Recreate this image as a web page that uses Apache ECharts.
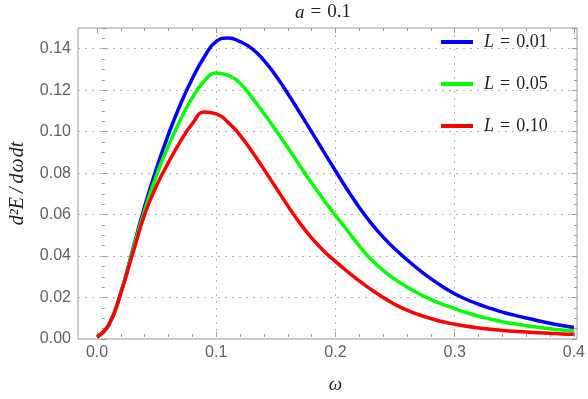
<!DOCTYPE html>
<html>
<head>
<meta charset="utf-8">
<script src="https://cdn.jsdelivr.net/npm/echarts@6/dist/echarts.min.js"></script>
<style>
  html, body { margin: 0; padding: 0; background: #fff; }
  #chart { width: 588px; height: 399px; }
</style>
</head>
<body>
<div id="chart"></div>
<script>
// sample points along omega
var omega = [0, 0.01, 0.02, 0.03, 0.04, 0.05, 0.06, 0.07, 0.08, 0.09,
  0.10, 0.11, 0.12, 0.13, 0.14, 0.15, 0.16, 0.17, 0.18, 0.19,
  0.20, 0.21, 0.22, 0.23, 0.24, 0.25, 0.26, 0.27, 0.28, 0.29,
  0.30, 0.31, 0.32, 0.33, 0.34, 0.35, 0.36, 0.37, 0.38, 0.39, 0.40];

var blueL001 = [0, 0.006, 0.0215, 0.0425, 0.0635, 0.082, 0.0985, 0.113, 0.1255, 0.1359,
  0.1435, 0.1452, 0.1434, 0.1400, 0.1343, 0.1268, 0.1182, 0.1090, 0.0996, 0.0901,
  0.0807, 0.0715, 0.0629, 0.0552, 0.0485, 0.0427, 0.0375, 0.0327, 0.0283, 0.0244,
  0.0210, 0.0182, 0.0159, 0.0139, 0.0121, 0.0106, 0.0092, 0.0079, 0.0067, 0.0056, 0.0046];

var greenL005 = [0, 0.006, 0.0215, 0.042, 0.0615, 0.0787, 0.0930, 0.1055, 0.1162, 0.1243,
  0.1282, 0.1270, 0.1232, 0.1162, 0.1085, 0.1004, 0.0920, 0.0833, 0.0748, 0.0667,
  0.0590, 0.0517, 0.0442, 0.0376, 0.0323, 0.0280, 0.0243, 0.0210, 0.0182, 0.0158,
  0.0138, 0.0118, 0.0101, 0.0087, 0.0074, 0.0064, 0.0055, 0.0047, 0.0040, 0.0034, 0.0029];

var redL010 = [0, 0.006, 0.0215, 0.0405, 0.0595, 0.0735, 0.0848, 0.0950, 0.1036, 0.1092,
  0.1083, 0.1042, 0.0979, 0.0900, 0.0814, 0.0726, 0.0637, 0.0554, 0.0481, 0.0419,
  0.0367, 0.0318, 0.0272, 0.0230, 0.0192, 0.0158, 0.0130, 0.0108, 0.0090, 0.0074,
  0.0062, 0.0052, 0.0044, 0.0038, 0.0032, 0.0028, 0.0024, 0.0021, 0.0018, 0.0015, 0.0013];

var lValues = ['0.01', '0.05', '0.10'];
var seriesValues = [blueL001, greenL005, redL010];
var seriesColors = ['#0000ff', '#00ff00', '#ff0000'];

var dom = document.getElementById('chart');
var myChart = echarts.init(dom, null, { renderer: 'canvas' });

var gray = '#9a9a9a';
var labelColor = '#606060';
var textColor = '#222';
var serif = '"Liberation Serif", "DejaVu Serif", serif';
var dotted = { color: '#b5b5b5', type: [2, 5], width: 1 };

function pairs(ys) {
  return omega.map(function (x, i) { return [x, ys[i]]; });
}

var series = lValues.map(function (l, k) {
  return {
    name: 'L = ' + l,
    type: 'line',
    xAxisIndex: 1,
    yAxisIndex: 2,
    data: pairs(seriesValues[k]),
    smooth: 0.5,
    showSymbol: false,
    clip: false,
    lineStyle: { width: 3.5, color: seriesColors[k] },
    itemStyle: { color: seriesColors[k] }
  };
});

function mathRich(size) {
  return {
    i: { fontFamily: serif, fontStyle: 'italic', fontSize: size, color: textColor },
    e: { fontFamily: serif, fontSize: size, color: textColor, padding: [0, 6] },
    n: { fontFamily: serif, fontSize: size, color: textColor }
  };
}

var option = {
  animation: false,
  title: {
    text: '{i|a}{e|=}{n|0.1}',
    left: 295,
    top: 3,
    padding: 0,
    textStyle: {
      fontFamily: serif,
      fontSize: 19,
      fontWeight: 'normal',
      color: textColor,
      rich: mathRich(19)
    }
  },
  legend: {
    orient: 'vertical',
    left: 436,
    top: 28,
    itemGap: 24,
    itemWidth: 32,
    itemHeight: 4,
    icon: 'rect',
    formatter: function (name) {
      return '{i|L}{e|=}{n|' + name.split('= ')[1] + '}';
    },
    textStyle: {
      fontFamily: serif,
      fontSize: 18,
      lineHeight: 18,
      color: textColor,
      padding: [0, 0, 0, 6],
      rich: mathRich(18)
    },
    data: lValues.map(function (l) { return 'L = ' + l; })
  },
  grid: [
    { left: 73, right: 11, top: 28, bottom: 60, show: true, borderColor: gray, borderWidth: 1, backgroundColor: 'transparent' },
    { left: 97, right: 11, top: 28, bottom: 60 }
  ],
  xAxis: [
    { gridIndex: 0, type: 'value', min: -0.02, max: 0.4, show: false },
    {
      gridIndex: 1, type: 'value', position: 'bottom', min: 0, max: 0.4, interval: 0.1,
      name: 'ω', nameLocation: 'middle', nameGap: 38,
      nameTextStyle: { fontFamily: serif, fontStyle: 'italic', fontSize: 19, color: textColor },
      axisLine: { show: false },
      axisTick: { show: true, inside: true, length: 5, lineStyle: { color: gray } },
      minorTick: { show: true, splitNumber: 5, length: 3, lineStyle: { color: gray } },
      axisLabel: { color: labelColor, fontSize: 16, fontFamily: 'Liberation Sans, Arial, sans-serif', margin: 8,
        formatter: function (v) { return v.toFixed(1); } },
      splitLine: { show: true, showMinLine: false, showMaxLine: false, lineStyle: dotted }
    },
    {
      gridIndex: 1, type: 'value', position: 'top', min: 0, max: 0.4, interval: 0.1,
      axisLine: { show: false },
      axisTick: { show: true, inside: true, length: 5, lineStyle: { color: gray } },
      minorTick: { show: true, splitNumber: 5, length: 3, lineStyle: { color: gray } },
      axisLabel: { show: false },
      splitLine: { show: false }
    }
  ],
  yAxis: [
    {
      gridIndex: 0, type: 'value', position: 'left', min: 0, max: 0.15, interval: 0.02,
      name: '{i|d²E}{e|/}{i|d}{w|ω}{i|dt}', nameLocation: 'middle', nameGap: 50,
      nameTextStyle: {
        fontFamily: serif, fontStyle: 'italic', fontSize: 20, color: textColor,
        rich: {
          i: { fontFamily: serif, fontStyle: 'italic', fontSize: 20, color: textColor },
          e: { fontFamily: serif, fontStyle: 'italic', fontSize: 20, color: textColor, padding: [0, 4] },
          w: { fontFamily: serif, fontStyle: 'italic', fontSize: 20, color: textColor, padding: [0, 1] }
        }
      },
      axisLine: { show: false },
      axisTick: { show: true, inside: true, length: 5, lineStyle: { color: gray } },
      minorTick: { show: true, splitNumber: 4, length: 3, lineStyle: { color: gray } },
      axisLabel: { color: labelColor, fontSize: 16, fontFamily: 'Liberation Sans, Arial, sans-serif', margin: 7,
        showMaxLabel: false,
        formatter: function (v) { return v.toFixed(2); } },
      splitLine: { show: true, showMinLine: false, showMaxLine: false, lineStyle: dotted }
    },
    {
      gridIndex: 0, type: 'value', position: 'right', min: 0, max: 0.15, interval: 0.02,
      axisLine: { show: false },
      axisTick: { show: true, inside: true, length: 5, lineStyle: { color: gray } },
      minorTick: { show: true, splitNumber: 4, length: 3, lineStyle: { color: gray } },
      axisLabel: { show: false },
      splitLine: { show: false }
    },
    { gridIndex: 1, type: 'value', min: 0, max: 0.15, show: false }
  ],
  series: series
};

myChart.setOption(option);
window.addEventListener('resize', myChart.resize);
</script>
</body>
</html>
